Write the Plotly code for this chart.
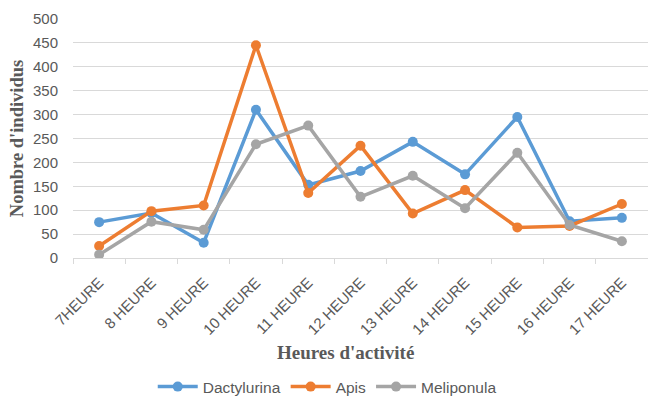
import plotly.graph_objects as go

heures = ["7HEURE", "8 HEURE", "9 HEURE", "10 HEURE", "11 HEURE", "12 HEURE",
          "13 HEURE", "14 HEURE", "15 HEURE", "16 HEURE", "17 HEURE"]
dactylurina = [75, 94, 32, 310, 153, 182, 243, 175, 295, 77, 84]
apis = [25, 98, 110, 445, 136, 235, 93, 142, 64, 67, 113]
meliponula = [7, 76, 59, 238, 277, 128, 172, 104, 220, 69, 35]

series = [
    ("Dactylurina", dactylurina, "#5B9BD5"),
    ("Apis", apis, "#ED7D31"),
    ("Meliponula", meliponula, "#A5A5A5"),
]

fig = go.Figure()
for name, vals, col in series:
    fig.add_trace(go.Scatter(
        x=heures, y=vals, name=name, mode="lines+markers",
        line=dict(color=col, width=3.5),
        marker=dict(color=col, size=10),
    ))

serif = "Liberation Serif, Times New Roman, serif"
fig.update_layout(
    width=648, height=399,
    margin=dict(l=73, r=0, t=19, b=141, autoexpand=False),
    paper_bgcolor="white", plot_bgcolor="white",
    font=dict(family="Liberation Sans, Arial, sans-serif", color="#595959", size=13),
    legend=dict(orientation="h", xref="container", x=0.505, xanchor="center",
                yref="container", y=0.03, yanchor="middle",
                font=dict(size=15.5, color="#595959"), itemwidth=40,
                tracegroupgap=0),
    showlegend=True,
    annotations=[dict(
        text="<b>Heures d'activité</b>", xref="paper", yref="paper",
        x=(345 - 73) / 575, y=-(352 - 258) / 239, xanchor="center", yanchor="middle",
        showarrow=False, font=dict(family=serif, size=19, color="#595959"),
    )],
)
fig.update_xaxes(
    type="category", range=[-0.5, 10.5], automargin=False,
    tickangle=-45, tickson="boundaries", ticks="outside", ticklen=5,
    tickcolor="#D9D9D9", showline=True, linecolor="#D9D9D9", linewidth=1,
    showgrid=False, ticklabelstandoff=9,
    tickfont=dict(size=15, color="#595959"),
)
fig.update_yaxes(
    range=[0, 500], dtick=50, showgrid=True, gridcolor="#D9D9D9", gridwidth=1,
    zeroline=False, showline=False, automargin=False,
    ticklabelstandoff=14,
    tickfont=dict(size=15, color="#595959"),
    title=dict(text="<b>Nombre d'individus</b>", standoff=4,
               font=dict(family=serif, size=18.5, color="#595959")),
)

fig.write_html("out.html")
